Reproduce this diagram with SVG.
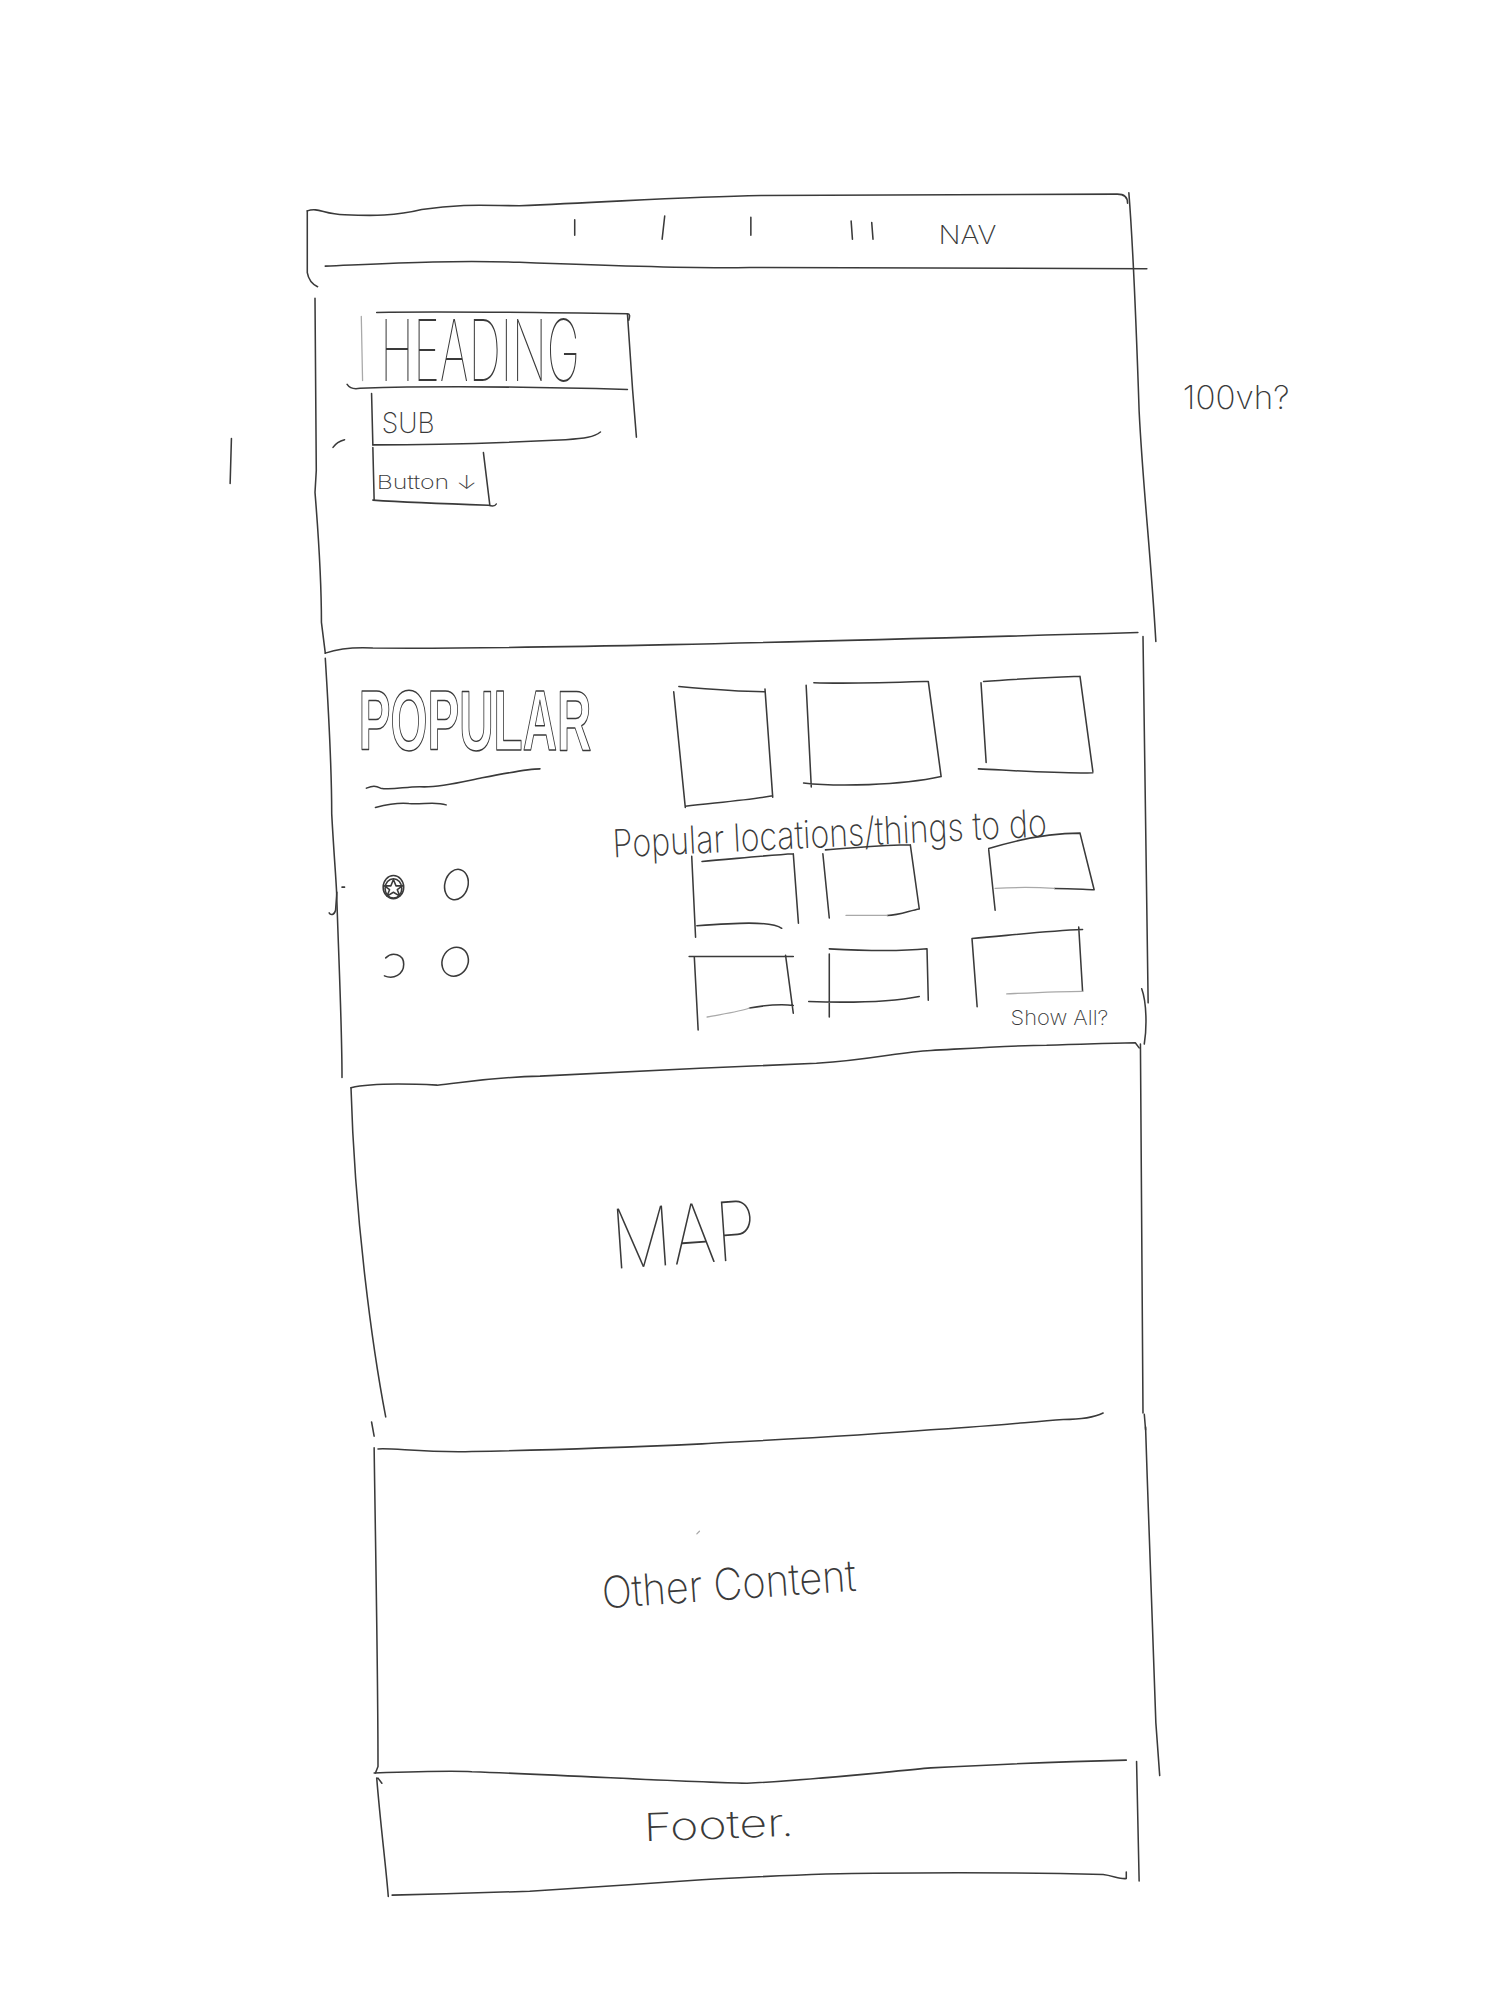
<svg xmlns="http://www.w3.org/2000/svg" width="1512" height="2016" viewBox="0 0 1512 2016">
  <style>
    .pen{fill:none;stroke:#3a3a3a;stroke-width:1.2;stroke-linecap:round;stroke-linejoin:round}
    .faint{fill:none;stroke:#a9a9a9;stroke-width:1;stroke-linecap:round;stroke-linejoin:round}
    .hand{font-family:Inter,"Open Sans","Liberation Sans",sans-serif;font-weight:200;fill:#3a3a3a}
    .thin{font-weight:100}
    .outline{font-family:"Liberation Sans","DejaVu Sans",sans-serif;font-weight:700;fill:#ffffff;stroke:#3a3a3a;stroke-width:1.1;stroke-linejoin:round}
  </style>
  <rect width="1512" height="2016" fill="#ffffff"/>

  <!-- sketch drawn on a 1176x1568 grid, scaled up to the page -->
  <g transform="scale(1.285714)">

    <!-- top navigation bar -->
    <g id="nav">
      <path class="pen" d="M239,164 C248,161 252,167 268,167 C290,168 308,168 328,163 C360,158 380,160 404,160 C480,157 530,153 592,152 C700,151 800,152 869,151 C874,151 877,153 877,158"/>
      <path class="pen" d="M239,164 L239,212 C240,218 243,221 247,223"/>
      <path class="pen" d="M253,207 C300,205 350,202 404,204 C480,207 540,209 583,208 C700,209 800,209 892,209"/>
      <path class="pen" d="M447,171 L447,183 M517,168 L515,186 M584,169 L584,183 M662,172 L663,186 M678,173 L679,186"/>
      <text class="hand" x="730" y="190" font-size="20" textLength="45" lengthAdjust="spacingAndGlyphs">NAV</text>
    </g>

    <!-- hero: heading, sub line, button -->
    <g id="hero">
      <path class="pen" d="M878,150 C882,200 884,260 886,320 C889,380 895,430 899,499"/>
      <path class="pen" d="M245,232 L246,366 L245,383 C248,420 250,460 250,484 L253,508"/>
      <path class="pen" d="M180,341 L179,376"/>
      <path class="pen" d="M259,348 C261,345 264,343 268,342"/>

      <g id="heading">
        <path class="faint" d="M281,246 L282,296"/>
        <path class="pen" d="M293,243 C340,242 420,243 488,244 C490,244 490,246 489,249"/>
        <path class="pen" d="M488,244 L492,303 L495,340"/>
        <path class="pen" d="M270,299 C272,302 275,303 280,302 C340,300 420,301 488,303"/>
        <text class="hand thin" x="296" y="296" font-size="66" textLength="155" lengthAdjust="spacingAndGlyphs">HEADING</text>
      </g>

      <g id="sub">
        <path class="pen" d="M289,306 L290,346"/>
        <path class="pen" d="M290,346 C340,346 400,344 440,342 C455,341 462,340 467,336"/>
        <text class="hand" x="297" y="337" font-size="22" textLength="41" lengthAdjust="spacingAndGlyphs">SUB</text>
      </g>

      <g id="button">
        <path class="pen" d="M290,348 L291,389"/>
        <path class="pen" d="M290,389 C320,391 350,392 380,393 C383,394 385,394 386,392"/>
        <path class="pen" d="M376,352 L381,393"/>
        <text class="hand" x="293" y="380" font-size="15" font-weight="400" textLength="78" lengthAdjust="spacingAndGlyphs">Button ↓</text>
      </g>

      <text class="hand" x="920" y="318" font-size="25" textLength="83" lengthAdjust="spacingAndGlyphs">100vh?</text>
    </g>

    <!-- popular section -->
    <g id="popular">
      <path class="pen" d="M253,508 C262,505 272,503 290,504 C400,505 600,500 885,492"/>
      <path class="pen" d="M253,512 C256,560 258,600 258,633 C260,670 262,690 262,700 C264,760 266,800 266,838"/>
      <path class="pen" d="M889,495 C891,600 892,700 893,780"/>
      <path class="pen" d="M888,769 C892,780 892,800 890,812"/>
      <path class="pen" d="M266,690 L268,690 M262,694 L261,708 C260,712 257,712 256,710"/>

      <text class="outline" x="279" y="583" font-size="66" textLength="181" lengthAdjust="spacingAndGlyphs">POPULAR</text>
      <path class="pen" d="M285,613 C290,611 292,611 296,613 C305,615 318,611 330,612 C345,612 360,608 375,605 C395,601 410,598 420,598"/>
      <path class="pen" d="M292,628 C300,626 310,624 318,625 C328,626 338,623 347,626"/>

      <g id="filters">
        <ellipse class="pen" cx="306" cy="690" rx="8" ry="9"/>
        <ellipse class="pen" cx="306" cy="691" rx="6.5" ry="7.5"/>
        <path class="pen" d="M306,684 L308,689 L313,689 L309,692 L311,697 L306,694 L301,697 L303,692 L299,689 L304,689 Z" fill="#3a3a3a"/>
        <ellipse class="pen" cx="355" cy="688" rx="9" ry="12" transform="rotate(15 355 688)"/>
        <path class="pen" d="M300,745 C305,740 314,742 314,750 C314,758 306,762 299,759"/>
        <ellipse class="pen" cx="354" cy="748" rx="10" ry="11.5" transform="rotate(25 354 748)"/>
      </g>

      <g id="cards">
        <path class="pen" d="M528,534 C550,536 575,538 595,538 M595,536 L601,620 M533,627 C560,624 585,622 601,619 M524,538 L533,628"/>
        <path class="pen" d="M633,531 C660,532 690,531 722,530 M722,530 L732,604 M625,609 C650,612 700,611 732,604 M627,533 L631,612"/>
        <path class="pen" d="M765,530 C790,528 815,527 840,526 M840,526 L850,600 M761,598 C800,600 830,602 850,601 M763,531 L767,593"/>
        <path class="pen" d="M538,666 L541,729 M546,670 C570,668 600,665 617,664 M617,664 L621,718 M542,720 C570,718 600,716 608,722"/>
        <path class="pen" d="M640,664 L645,714 M642,661 C670,659 690,657 708,657 M708,657 L715,707 M690,712 C700,712 708,708 715,707"/>
        <path class="faint" d="M658,712 C670,712 680,712 690,712"/>
        <path class="pen" d="M769,660 C795,652 820,648 840,648 M840,648 L851,692 M769,661 L774,708 M820,691 C835,691 845,692 851,692"/>
        <path class="faint" d="M774,691 C790,690 805,690 820,691"/>
        <path class="pen" d="M536,744 L617,744 M540,744 L543,801 M611,743 L617,788 M583,784 C600,781 610,781 617,782"/>
        <path class="faint" d="M550,791 C560,789 575,787 583,784"/>
        <path class="pen" d="M645,738 C680,740 700,740 721,738 M645,742 L645,791 M721,738 L722,778 M629,779 C660,780 690,780 715,775"/>
        <path class="pen" d="M756,730 C790,727 815,724 842,723 M756,730 L760,783 M839,721 L842,771"/>
        <path class="faint" d="M783,773 C805,772 825,771 842,771"/>
      </g>

      <text class="hand" x="477" y="667" font-size="30" textLength="338" lengthAdjust="spacingAndGlyphs" transform="rotate(-2.8 477 667)">Popular locations/things to do</text>
      <text class="hand" x="786" y="797" font-size="16" font-weight="300" textLength="76" lengthAdjust="spacingAndGlyphs">Show All?</text>
    </g>

    <!-- map section -->
    <g id="map">
      <path class="pen" d="M273,846 C290,842 320,843 340,844 C360,842 380,838 420,837 C500,833 560,830 635,827 C680,824 700,818 724,817 C760,815 790,813 814,813 C850,812 870,811 883,811 L886,815"/>
      <path class="pen" d="M273,846 C276,950 290,1050 300,1102"/>
      <path class="pen" d="M887,812 L889,1099"/>
      <path class="pen" d="M858,1099 C850,1103 840,1104 827,1104 C790,1107 760,1110 724,1112 C660,1117 600,1120 546,1123 C480,1126 420,1128 367,1129 C330,1130 305,1126 294,1127"/>
      <text class="hand thin" x="477" y="987" font-size="64" textLength="113" lengthAdjust="spacingAndGlyphs" transform="rotate(-4 477 987)">MAP</text>
    </g>

    <!-- other content section -->
    <g id="other-content">
      <path class="pen" d="M289,1106 L291,1117"/>
      <path class="pen" d="M291,1126 C292,1200 294,1300 294,1374 L292,1379"/>
      <path class="pen" d="M890,1100 L891,1112"/>
      <path class="pen" d="M891,1110 C894,1200 897,1300 899,1340 L902,1381"/>
      <path class="pen" d="M291,1379 C320,1378 350,1377 367,1378 C450,1381 530,1386 581,1387 C640,1384 690,1378 724,1375 C780,1372 830,1370 876,1369"/>
      <path class="faint" d="M542,1193 L544,1191"/>
      <text class="hand" x="469" y="1251" font-size="34" textLength="198" lengthAdjust="spacingAndGlyphs" transform="rotate(-4 469 1251)">Other Content</text>
    </g>

    <!-- footer -->
    <g id="footer">
      <path class="pen" d="M293,1383 C296,1420 300,1450 302,1475 M294,1383 L297,1387"/>
      <path class="pen" d="M884,1370 L886,1463"/>
      <path class="pen" d="M305,1474 C340,1473 380,1472 412,1471 C460,1468 500,1465 546,1462 C600,1459 640,1457 680,1457 C760,1456 820,1457 858,1458 C866,1459 872,1462 876,1461 L876,1456"/>
      <text class="hand" x="501" y="1432" font-size="30" textLength="117" lengthAdjust="spacingAndGlyphs" transform="rotate(-2 501 1432)">Footer.</text>
    </g>
  </g>
</svg>
